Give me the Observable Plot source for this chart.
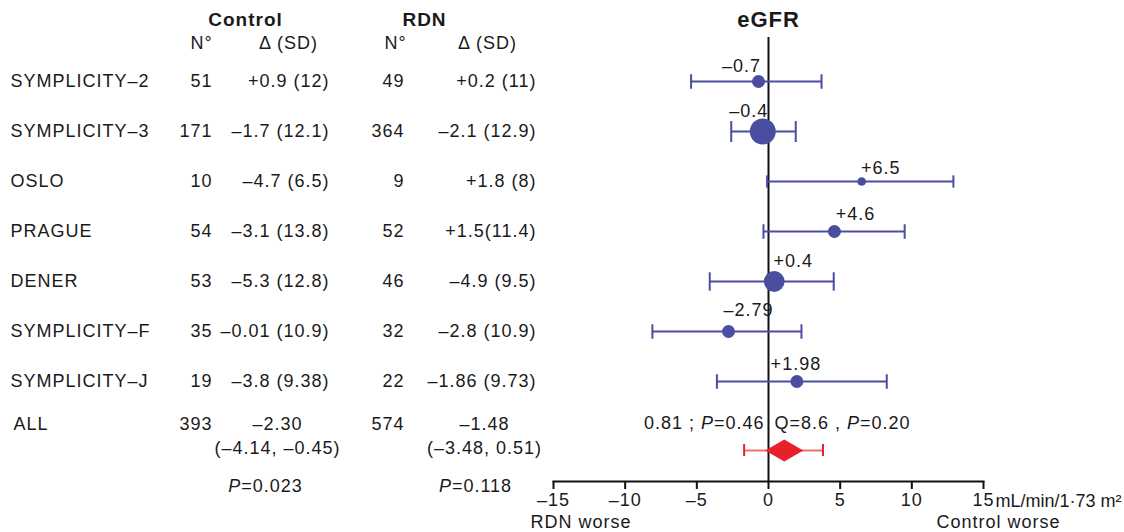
<!DOCTYPE html>
<html>
<head>
<meta charset="utf-8">
<script src="https://cdn.jsdelivr.net/npm/d3@7"></script>
<script src="https://cdn.jsdelivr.net/npm/@observablehq/plot@0.6"></script>
<style>
  body { margin: 0; background: #fff; }
  #chart svg { font-family: Arial, "Liberation Sans", sans-serif; letter-spacing: 1px; }
</style>
</head>
<body>
<div id="chart"></div>
<script>
// ---------- data ----------
const studies = ["SYMPLICITY–2", "SYMPLICITY–3", "OSLO", "PRAGUE", "DENER", "SYMPLICITY–F", "SYMPLICITY–J"];
const controlN = [51, 171, 10, 54, 53, 35, 19];
const controlDelta = ["+0.9 (12)", "–1.7 (12.1)", "–4.7 (6.5)", "–3.1 (13.8)", "–5.3 (12.8)", "–0.01 (10.9)", "–3.8 (9.38)"];
const rdnN = [49, 364, 9, 52, 46, 32, 22];
const rdnDelta = ["+0.2 (11)", "–2.1 (12.9)", "+1.8 (8)", "+1.5(11.4)", "–4.9 (9.5)", "–2.8 (10.9)", "–1.86 (9.73)"];
const effect = [-0.7, -0.4, 6.5, 4.6, 0.4, -2.79, 1.98];
const effectLabel = ["–0.7", "–0.4", "+6.5", "+4.6", "+0.4", "–2.79", "+1.98"];
const ciLow = [-5.4, -2.6, -0.1, -0.35, -4.1, -8.1, -3.6];
const ciHigh = [3.7, 1.9, 12.9, 9.5, 4.55, 2.3, 8.25];
const weight = [9, 36, 4, 9, 23, 9, 9];
const pooledEffect = 1.1;
const pooledLow = -1.7;
const pooledHigh = 3.8;
const pooledStatsLeft = "0.81 ; P=0.46";
const pooledStatsRight = "Q=8.6 , P=0.20";
const allLabel = "ALL";
const allControl = { n: "393", mean: "–2.30", ci: "(–4.14, –0.45)", p: "P=0.023" };
const allRdn = { n: "574", mean: "–1.48", ci: "(–3.48, 0.51)", p: "P=0.118" };
const xTicks = [-15, -10, -5, 0, 5, 10, 15];
const unitLabel = "mL/min/1·73 m²";
const leftWorse = "RDN worse";
const rightWorse = "Control worse";
const title = "eGFR";

// ---------- layout / style ----------
const W = 1124, H = 532;
const mL = 553, mR = 141, mT = 37, mB = 51;
const blue = "#4b4da1";
const red = "#e8202a";
const fs = 18;
const cx = px => px - mL; // pixel column -> dx from frame left
const cy = py => py - mT; // pixel row -> dy from frame top

const rows = studies.map((s, i) => ({
  study: s, cn: controlN[i], cd: controlDelta[i], rn: rdnN[i], rd: rdnDelta[i],
  effect: effect[i], label: effectLabel[i], low: ciLow[i], high: ciHigh[i], w: weight[i]
}));
const pooled = [{ y: allLabel, effect: pooledEffect, low: pooledLow, high: pooledHigh }];

const capSymbol = {
  draw(ctx, size) {
    const r = Math.sqrt(size / Math.PI);
    const h = 4 + r / 2;
    ctx.moveTo(0, -h); ctx.lineTo(0, h);
  }
};
const wideDiamond = {
  draw(ctx, size) {
    const r = Math.sqrt(size / Math.PI);
    const w = r * 1.9, h = r * 1.1;
    ctx.moveTo(-w, 0); ctx.lineTo(0, -h); ctx.lineTo(w, 0); ctx.lineTo(0, h); ctx.closePath();
  }
};

const labelDx = [-17, -14, 19, 21, 19, 20, -1];
const labelDy = [-15, -20, -13, -17, -20, -21, -17];

const txt = (data, o) => Plot.text(data, { fontSize: fs, fill: "#1a1a1a", textAnchor: "middle", lineAnchor: "middle", ...o });
const header = (t, px, py, o = {}) => txt([t], { text: d => d, frameAnchor: "top-left", dx: cx(px), dy: cy(py), ...o });
const tickFmt = d => d < 0 ? "–" + Math.abs(d) : String(d);

const plot = Plot.plot({
  width: W, height: H,
  marginLeft: mL, marginRight: mR, marginTop: mT, marginBottom: mB,
  x: { domain: [-15, 15] },
  y: { type: "point", domain: [...studies, allLabel], range: [78, 433], padding: 0, axis: null },
  r: { type: "sqrt", domain: [0, 36], range: [0, 13] },
  marks: [
    // axis
    Plot.frame({ anchor: "bottom", stroke: "#111", strokeWidth: 2 }),
    Plot.axisX({ ticks: xTicks, tickFormat: tickFmt, tickSize: 8, tickPadding: 4, fontSize: fs, stroke: "#111", strokeWidth: 2, fill: "#1a1a1a", label: null }),
    Plot.ruleX([0], { stroke: "#111", strokeWidth: 2 }),
    txt([unitLabel], { text: d => d, x: 15, frameAnchor: "bottom", dx: 12, dy: 20, textAnchor: "start", fontSize: 18 }),
    txt([leftWorse], { text: d => d, x: -15, frameAnchor: "bottom", dx: -23, dy: 41, textAnchor: "start" }),
    txt([rightWorse], { text: d => d, x: 15, frameAnchor: "bottom", dx: 77, dy: 41, textAnchor: "end" }),
    txt([title], { text: d => d, x: 0, frameAnchor: "top", dy: cy(19), fontSize: 22, fontWeight: "bold" }),

    // column headers
    header("Control", 245, 19, { fontWeight: "bold", fontSize: 19 }),
    header("N°", 201, 43),
    header("Δ (SD)", 288, 43),
    header("RDN", 424, 19, { fontWeight: "bold", fontSize: 19 }),
    header("N°", 395, 43),
    header("Δ (SD)", 487, 43),

    // table rows
    txt(rows, { y: "study", text: "study", frameAnchor: "left", dx: cx(10), textAnchor: "start" }),
    txt(rows, { y: "study", text: "cn", frameAnchor: "left", dx: cx(212), textAnchor: "end" }),
    txt(rows, { y: "study", text: "cd", frameAnchor: "left", dx: cx(329), textAnchor: "end" }),
    txt(rows, { y: "study", text: "rn", frameAnchor: "left", dx: cx(404), textAnchor: "end" }),
    txt(rows, { y: "study", text: "rd", frameAnchor: "left", dx: cx(536), textAnchor: "end" }),

    // ALL rows
    txt([allLabel], { y: d => d, text: d => d, frameAnchor: "left", dx: cx(13), dy: -7, textAnchor: "start" }),
    txt([allControl], { y: () => allLabel, text: "n", frameAnchor: "left", dx: cx(212), dy: -7, textAnchor: "end" }),
    txt([allControl], { y: () => allLabel, text: "mean", frameAnchor: "left", dx: cx(277), dy: -7 }),
    txt([allControl], { y: () => allLabel, text: "ci", frameAnchor: "left", dx: cx(277), dy: 17 }),
    txt([allControl], { y: () => allLabel, text: "p", frameAnchor: "left", dx: cx(265), dy: 55 }),
    txt([allRdn], { y: () => allLabel, text: "n", frameAnchor: "left", dx: cx(404), dy: -7, textAnchor: "end" }),
    txt([allRdn], { y: () => allLabel, text: "mean", frameAnchor: "left", dx: cx(484), dy: -7 }),
    txt([allRdn], { y: () => allLabel, text: "ci", frameAnchor: "left", dx: cx(484), dy: 17 }),
    txt([allRdn], { y: () => allLabel, text: "p", frameAnchor: "left", dx: cx(475), dy: 55 }),

    // study estimates
    Plot.ruleY(rows, { y: "study", x1: "low", x2: "high", stroke: blue, strokeWidth: 2 }),
    Plot.dot(rows, { x: "low", y: "study", r: "w", symbol: capSymbol, stroke: blue, strokeWidth: 2, fill: "none" }),
    Plot.dot(rows, { x: "high", y: "study", r: "w", symbol: capSymbol, stroke: blue, strokeWidth: 2, fill: "none" }),
    Plot.dot(rows, { x: "effect", y: "study", r: "w", fill: blue, stroke: "none" }),
    ...rows.map((d, i) => txt([d], { x: "effect", y: "study", text: "label", dx: labelDx[i], dy: labelDy[i] })),

    // pooled
    Plot.ruleY(pooled, { y: "y", x1: "low", x2: "high", dy: 19, stroke: "#f07070", strokeWidth: 2 }),
    Plot.ruleX(pooled, { x: "low", y1: "y", y2: "y", dy: 19, insetTop: -6, insetBottom: -6, stroke: red, strokeWidth: 2 }),
    Plot.ruleX(pooled, { x: "high", y1: "y", y2: "y", dy: 19, insetTop: -6, insetBottom: -6, stroke: red, strokeWidth: 2 }),
    Plot.dot(pooled, { x: "effect", y: "y", dy: 19, r: 10, symbol: wideDiamond, fill: red, stroke: "none" }),
    txt([pooledStatsLeft], { x: 0, y: () => allLabel, text: d => d, dx: -4, dy: -8, textAnchor: "end" }),
    txt([pooledStatsRight], { x: 0, y: () => allLabel, text: d => d, dx: 6, dy: -8, textAnchor: "start" })
  ]
});

// italic "P" in the P=... texts; tighter unit label
const svgns = "http://www.w3.org/2000/svg";
plot.querySelectorAll("text").forEach(t => {
  if (t.children.length === 0 && /P=/.test(t.textContent)) {
    const parts = t.textContent.split(/(P)(?==)/).filter(p => p !== "");
    t.textContent = "";
    parts.forEach(p => {
      const ts = document.createElementNS(svgns, "tspan");
      if (p === "P") ts.setAttribute("font-style", "italic");
      ts.textContent = p;
      t.appendChild(ts);
    });
  }
  if (t.textContent === unitLabel) t.style.letterSpacing = "0px";
});

document.getElementById("chart").appendChild(plot);
</script>
</body>
</html>
